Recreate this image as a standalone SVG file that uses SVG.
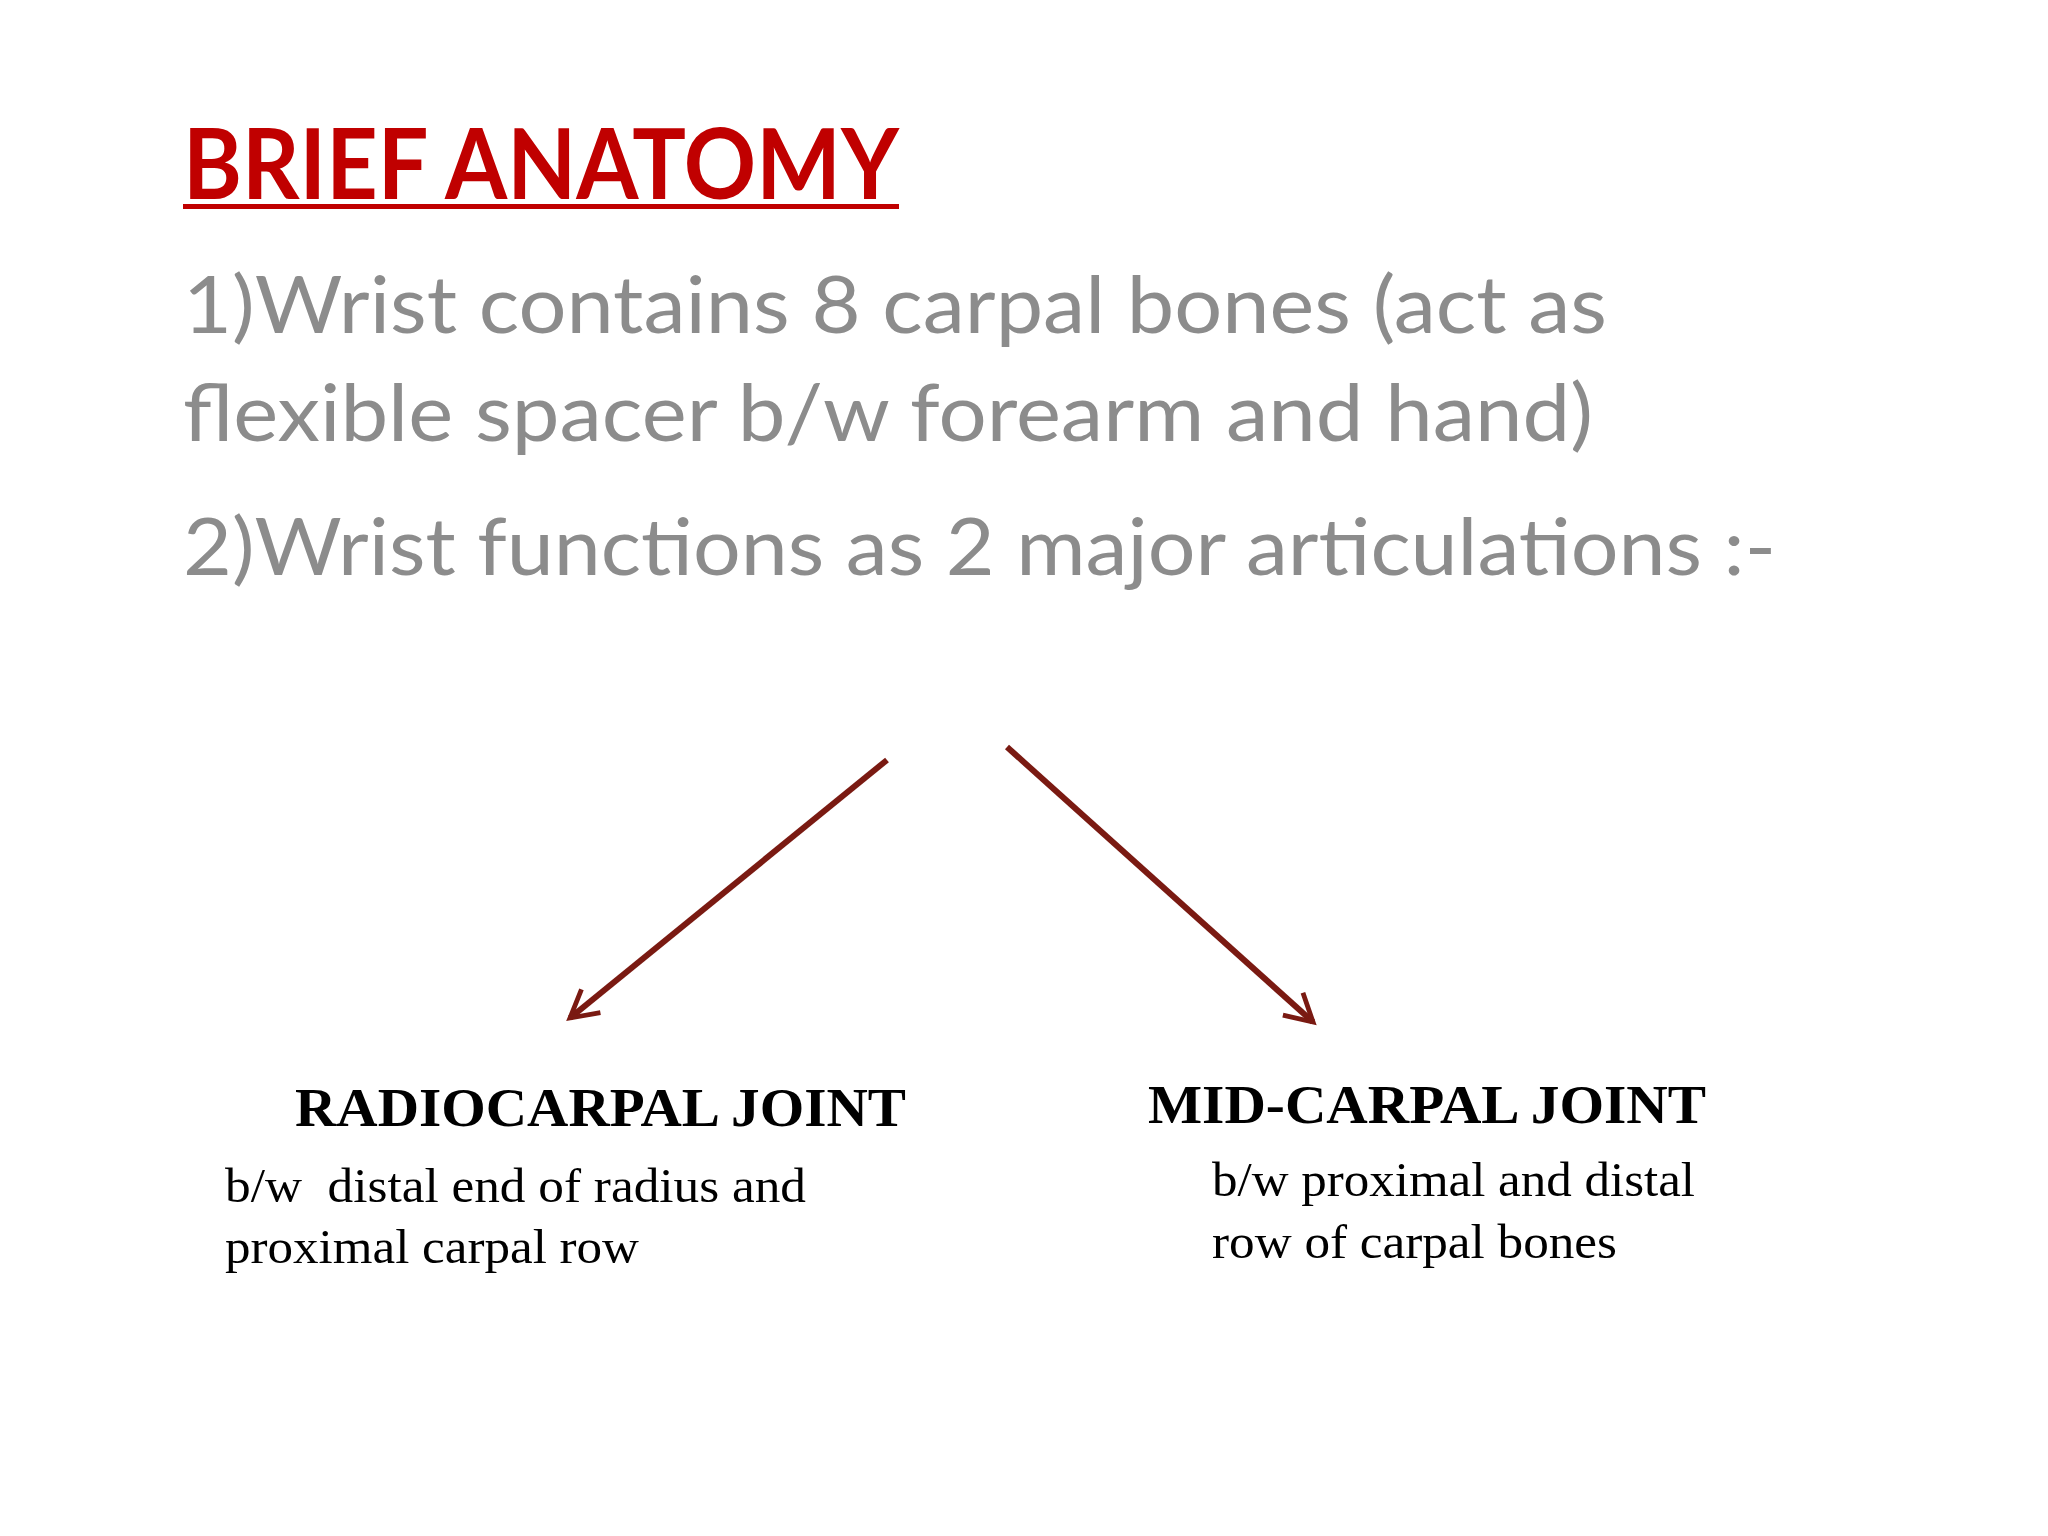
<svg xmlns="http://www.w3.org/2000/svg" width="2048" height="1536" viewBox="0 0 2048 1536">
<style>
.t{font-family:Lato,"Liberation Sans",sans-serif}
.g{fill:#8c8c8c;font-size:80px}
.h{font-family:"Liberation Serif",serif;font-weight:bold;font-size:55px;fill:#000}
.d{font-family:"Liberation Serif",serif;font-size:48px;fill:#000}
.c{stroke:#7a1a12;stroke-width:6;fill:none}
</style>
<defs>
<marker id="a" viewBox="0 0 12 12" refX="10" refY="6" markerWidth="6" markerHeight="6" orient="auto" markerUnits="strokeWidth">
<path d="M1,1 L10,6 L1,11" fill="none" stroke="#7a1a12" stroke-width="1.6"/>
</marker>
</defs>
<rect width="2048" height="1536" fill="#fff"/>
<g id="title">
<text class="t" x="183" y="199" font-size="98" font-weight="bold" fill="#c00000" textLength="716" lengthAdjust="spacingAndGlyphs">BRIEF ANATOMY</text>
<rect x="183" y="204" width="716" height="5" fill="#c00000"/>
</g>
<g id="points">
<text class="t g" x="183" y="333" textLength="1424" lengthAdjust="spacingAndGlyphs">1)Wrist contains 8 carpal bones (act as</text>
<text class="t g" x="183" y="441" textLength="1410" lengthAdjust="spacingAndGlyphs">flexible spacer b/w forearm and hand)</text>
<text class="t g" x="183" y="575" textLength="1593" lengthAdjust="spacingAndGlyphs">2)Wrist functions as 2 major articulations :-</text>
</g>
<g id="connectors">
<line class="c" x1="887" y1="760" x2="570" y2="1018" marker-end="url(#a)"/>
<line class="c" x1="1007" y1="747" x2="1313" y2="1022" marker-end="url(#a)"/>
</g>
<g id="radiocarpal">
<text class="h" x="295" y="1126" textLength="611" lengthAdjust="spacingAndGlyphs">RADIOCARPAL JOINT</text>
<text class="d" x="225" y="1202" xml:space="preserve" textLength="581" lengthAdjust="spacingAndGlyphs">b/w  distal end of radius and</text>
<text class="d" x="225" y="1263" textLength="414" lengthAdjust="spacingAndGlyphs">proximal carpal row</text>
</g>
<g id="midcarpal">
<text class="h" x="1148" y="1123" textLength="558" lengthAdjust="spacingAndGlyphs">MID-CARPAL JOINT</text>
<text class="d" x="1212" y="1196" textLength="483" lengthAdjust="spacingAndGlyphs">b/w proximal and distal</text>
<text class="d" x="1212" y="1258" textLength="405" lengthAdjust="spacingAndGlyphs">row of carpal bones</text>
</g>
</svg>
